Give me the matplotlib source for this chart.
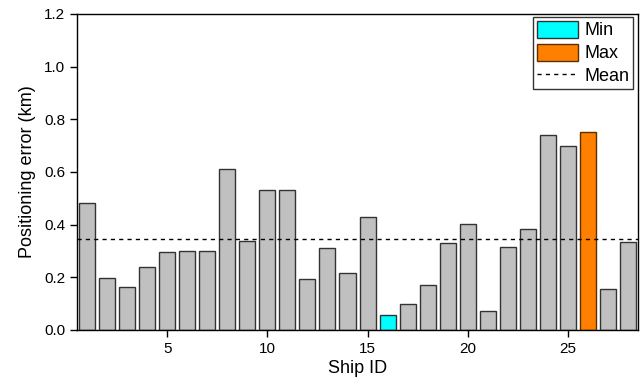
import numpy as np
import matplotlib
matplotlib.use("Agg")
import matplotlib.pyplot as plt
from matplotlib.patches import Patch
from matplotlib.lines import Line2D

plt.rcParams['font.family'] = ['Liberation Sans', 'DejaVu Sans']

# positioning error per ship (km)
ship_ids = np.arange(1, 29)
errors = [0.481, 0.196, 0.162, 0.238, 0.296, 0.300, 0.299, 0.610, 0.338, 0.532,
          0.532, 0.192, 0.311, 0.215, 0.429, 0.056, 0.097, 0.172, 0.332, 0.404,
          0.072, 0.314, 0.385, 0.739, 0.700, 0.752, 0.154, 0.335]

errors = np.array(errors)
mean_err = errors.mean()
i_min = int(np.argmin(errors))
i_max = int(np.argmax(errors))

colors = ['#c0c0c0'] * len(errors)
colors[i_min] = '#00ffff'
colors[i_max] = '#ff8000'
edges = ['#333333'] * len(errors)
edges[i_max] = '#5a3000'

fig = plt.figure(figsize=(6.44, 3.80), dpi=100)
ax = fig.add_axes([0.1196, 0.1316, 0.8711, 0.8316])

ax.bar(ship_ids, errors, width=0.8, color=colors, edgecolor=edges, linewidth=1.0)
ax.axhline(mean_err, color='black', linestyle=(0, (3, 3)), linewidth=1.0)

ax.set_xlim(0.5, 28.5)
ax.set_ylim(0, 1.2)
ax.set_xticks([5, 10, 15, 20, 25])
ax.set_yticks(np.arange(0, 1.21, 0.2))
ax.set_yticklabels([f"{v:.1f}" for v in np.arange(0, 1.21, 0.2)])
ax.tick_params(direction='out', length=5, width=1, labelsize=11, color='black')
for s in ax.spines.values():
    s.set_linewidth(1.0)

ax.set_xlabel('Ship ID', fontsize=13, labelpad=3)
ax.set_ylabel('Positioning error (km)', fontsize=13, labelpad=6)

handles = [Patch(facecolor='#00ffff', edgecolor='#333333', label='Min'),
           Patch(facecolor='#ff8000', edgecolor='#5a3000', label='Max'),
           Line2D([0], [0], color='black', linestyle=(0, (3, 3)), lw=1.0, label='Mean')]
leg = ax.legend(handles=handles, loc='upper right', bbox_to_anchor=(0.991, 0.99),
                fontsize=13, frameon=True, fancybox=False,
                edgecolor='black', borderpad=0.2, labelspacing=0.25, handlelength=2.3,
                handleheight=1.05, handletextpad=0.35, borderaxespad=0.0)
leg.get_frame().set_linewidth(1.0)

fig.savefig('out.png', dpi=100)
